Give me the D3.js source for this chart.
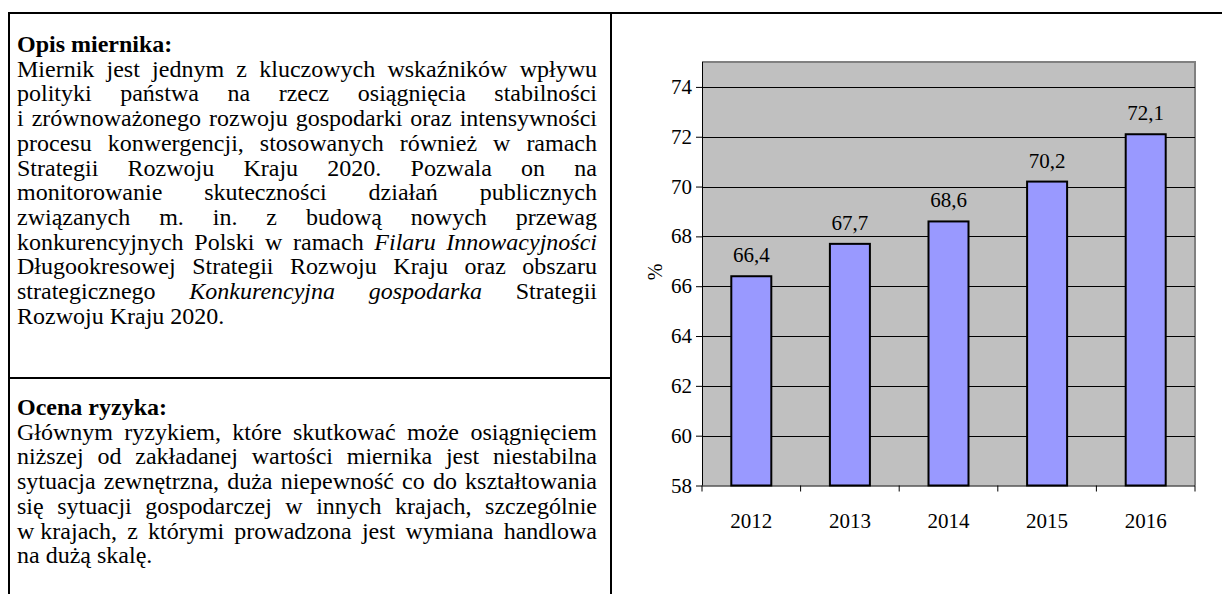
<!DOCTYPE html>
<html>
<head>
<meta charset="utf-8">
<script src="https://cdn.jsdelivr.net/npm/d3@7"></script>
</head>
<body style="margin:0">
<svg id="c" width="1222" height="594"></svg>
<script>
// ---- data ----
const categories = ["2012", "2013", "2014", "2015", "2016"];
const values = [66.4, 67.7, 68.6, 70.2, 72.1];
const valueLabels = ["66,4", "67,7", "68,6", "70,2", "72,1"];
const yTicks = [58, 60, 62, 64, 66, 68, 70, 72, 74];
const yDomain = [58, 75];
const yAxisTitle = "%";

const heading1 = "Opis miernika:";
const para1 = [
  "Miernik jest jednym z kluczowych wskaźników wpływu",
  "polityki państwa na rzecz osiągnięcia stabilności",
  "i zrównoważonego rozwoju gospodarki oraz intensywności",
  "procesu konwergencji, stosowanych również w ramach",
  "Strategii Rozwoju Kraju 2020. Pozwala on na",
  "monitorowanie skuteczności działań publicznych",
  "związanych m. in. z budową nowych przewag",
  "konkurencyjnych Polski w ramach *Filaru* *Innowacyjności*",
  "Długookresowej Strategii Rozwoju Kraju oraz obszaru",
  "strategicznego *Konkurencyjna* *gospodarka* Strategii",
  "Rozwoju Kraju 2020."
];
const heading2 = "Ocena ryzyka:";
const para2 = [
  "Głównym ryzykiem, które skutkować może osiągnięciem",
  "niższej od zakładanej wartości miernika jest niestabilna",
  "sytuacja zewnętrzna, duża niepewność co do kształtowania",
  "się sytuacji gospodarczej w innych krajach, szczególnie",
  "w\u00a0krajach, z którymi prowadzona jest wymiana handlowa",
  "na dużą skalę."
];

const svg = d3.select("#c");

function serifText(size) {
  return svg.append("text")
    .style("font-family", '"Liberation Serif"')
    .style("font-size", size + "px");
}

// ---- frame ----
[[9, 13, 1222, 13], [9, 12, 9, 594], [611, 12, 611, 594], [9, 378, 611, 378]].forEach(l => {
  svg.append("line").attr("x1", l[0]).attr("y1", l[1]).attr("x2", l[2]).attr("y2", l[3])
    .attr("stroke", "#000").attr("stroke-width", 2);
});

// ---- chart ----
const plot = { left: 702, right: 1195, top: 62, bottom: 485.5 };
const x = d3.scaleBand().domain(categories).range([plot.left, plot.right]).padding(0);
const y = d3.scaleLinear().domain(yDomain).range([plot.bottom, plot.top]);

svg.append("rect")
  .attr("x", plot.left).attr("y", plot.top)
  .attr("width", plot.right - plot.left).attr("height", plot.bottom - plot.top)
  .attr("fill", "#c0c0c0");
svg.append("path")
  .attr("d", `M${plot.left},${plot.top}H${plot.right}V${plot.bottom}`)
  .attr("fill", "none").attr("stroke", "#808080").attr("stroke-width", 2);

yTicks.filter(t => t > yDomain[0]).forEach(t => {
  svg.append("line")
    .attr("x1", plot.left).attr("x2", plot.right)
    .attr("y1", Math.round(y(t)) + 0.5).attr("y2", Math.round(y(t)) + 0.5)
    .attr("stroke", "#000").attr("stroke-width", 1);
});

const barW = 40;
values.forEach((v, i) => {
  svg.append("rect")
    .attr("x", x(categories[i]) + x.bandwidth() / 2 - barW / 2)
    .attr("y", y(v))
    .attr("width", barW)
    .attr("height", y(yDomain[0]) - y(v))
    .attr("fill", "#9999ff")
    .attr("stroke", "#000").attr("stroke-width", 2);
});

// axes: tick marks and domain lines from d3.axis, labels as plain texts
const yg = svg.append("g").attr("transform", `translate(${plot.left},0)`)
  .call(d3.axisLeft(y).tickValues(yTicks).tickSize(6).tickFormat(""));
yg.attr("font-family", null).attr("font-size", null);
yg.select(".domain").attr("stroke", "#000").attr("d", `M0.5,${plot.top}V${plot.bottom}`);
yg.selectAll(".tick line").attr("stroke", "#000");
yg.selectAll(".tick text").remove();

const xg = svg.append("g").attr("transform", `translate(0,${plot.bottom})`)
  .call(d3.axisBottom(x).tickSize(0).tickFormat(""));
xg.attr("font-family", null).attr("font-size", null);
xg.select(".domain").attr("stroke", "#000").attr("d", `M${plot.left},0.5H${plot.right}`);
xg.selectAll(".tick").remove();
categories.concat([null]).forEach((c, i) => {
  const xx = c === null ? plot.right : x(c);
  xg.append("line").attr("x1", xx).attr("x2", xx).attr("y1", 0).attr("y2", 6).attr("stroke", "#000");
});

yTicks.forEach(t => {
  serifText(21).attr("x", plot.left - 10).attr("y", y(t) + 7)
    .attr("text-anchor", "end").text(t);
});
categories.forEach(c => {
  serifText(21).attr("x", x(c) + x.bandwidth() / 2).attr("y", plot.bottom + 42)
    .attr("text-anchor", "middle").text(c);
});
values.forEach((v, i) => {
  serifText(21).attr("x", x(categories[i]) + x.bandwidth() / 2).attr("y", y(v) - 14)
    .attr("text-anchor", "middle").text(valueLabels[i]);
});
serifText(20).attr("transform", "translate(662,272) rotate(-90)")
  .attr("text-anchor", "middle").text(yAxisTitle);

// ---- left text ----
const TX = 17, TW = 580, LH = 24.7, FS = 24;
const lineGroups = [];
function buildLines(lines, y0) {
  lines.forEach((line, li) => {
    const yy = y0 + li * LH;
    const nodes = line.split(" ").map((w, i) => {
      const it = w.startsWith("*") && w.endsWith("*");
      const t = serifText(FS).attr("x", TX + i * 40).attr("y", yy).text(it ? w.slice(1, -1) : w);
      if (it) t.style("font-style", "italic");
      return t;
    });
    lineGroups.push({ nodes, last: li === lines.length - 1 });
  });
}
function layout() {
  lineGroups.forEach(({ nodes, last }) => {
    const widths = nodes.map(n => n.node().getComputedTextLength());
    const gap = (!last && nodes.length > 1) ? (TW - d3.sum(widths)) / (nodes.length - 1) : FS * 0.25;
    let xx = TX;
    nodes.forEach((n, i) => { n.attr("x", xx); xx += widths[i] + gap; });
  });
}
serifText(FS).attr("x", TX).attr("y", 52).style("font-weight", "bold").text(heading1);
buildLines(para1, 52 + LH);
serifText(FS).attr("x", TX).attr("y", 415).style("font-weight", "bold").text(heading2);
buildLines(para2, 415 + LH);
layout();
if (document.fonts && document.fonts.ready) document.fonts.ready.then(layout);
</script>
</body>
</html>
